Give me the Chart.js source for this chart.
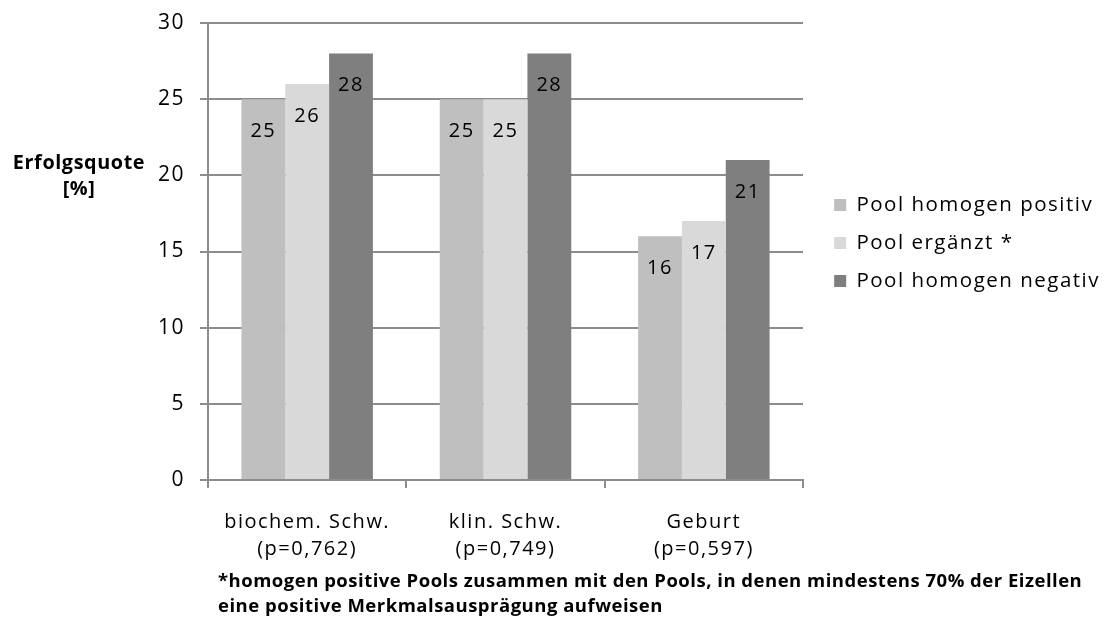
<!DOCTYPE html>
<html>
<head>
<meta charset="utf-8">
<script src="https://cdn.jsdelivr.net/npm/chart.js@4.4.1/dist/chart.umd.min.js"></script>
<style>
  body { margin: 0; background: #fff; }
  #wrap { position: relative; width: 1110px; height: 623px; font-family: "Open Sans", sans-serif; color: #000; }
  #yTitle { position: absolute; left: 0; top: 149px; width: 158px; text-align: center; font-weight: bold; font-size: 19.8px; line-height: 26px; letter-spacing: 0.6px; }
  #note { position: absolute; left: 218px; top: 567px; font-weight: bold; font-size: 18.5px; line-height: 25px; letter-spacing: 0.5px; white-space: nowrap; }
</style>
</head>
<body>
<div id="wrap">
  <canvas id="chart" width="1110" height="623"></canvas>
  <div id="yTitle">Erfolgsquote<br>[%]</div>
  <div id="note">*homogen positive Pools zusammen mit den Pools, in denen mindestens 70% der Eizellen<br>eine positive Merkmalsausprägung aufweisen</div>
</div>
<script>
// data
const categories = ['biochem. Schw.', 'klin. Schw.', 'Geburt'];
const pValues = ['(p=0,762)', '(p=0,749)', '(p=0,597)'];
const seriesNames = ['Pool homogen positiv', 'Pool ergänzt *', 'Pool homogen negativ'];
const homogenPositiv = [25, 25, 16];
const ergaenzt = [26, 25, 17];
const homogenNegativ = [28, 28, 21];
const yTicks = [0, 5, 10, 15, 20, 25, 30];

const colors = ['#bfbfbf', '#d9d9d9', '#7f7f7f'];
const FONT = '"Open Sans", sans-serif';
const SPACING = '1.5px';
const PLOT_RIGHT = 803;

// wider tracking like the original rendering
const tracking = {
    id: 'tracking',
    beforeUpdate(chart) { chart.ctx.letterSpacing = SPACING; },
    beforeLayout(chart) { chart.ctx.letterSpacing = SPACING; },
    beforeDraw(chart) { chart.ctx.letterSpacing = SPACING; }
};

// value labels inside the top of each bar
const valueLabels = {
    id: 'valueLabels',
    afterDatasetsDraw(chart) {
        const ctx = chart.ctx;
        ctx.save();
        ctx.font = '20px ' + FONT;
        ctx.fillStyle = '#000';
        ctx.textAlign = 'center';
        ctx.textBaseline = 'middle';
        chart.data.datasets.forEach((ds, i) => {
            chart.getDatasetMeta(i).data.forEach((bar, j) => {
                ctx.fillText(ds.data[j], bar.x, bar.y + 32);
            });
        });
        ctx.restore();
    }
};

const ctx = document.getElementById('chart').getContext('2d');
new Chart(ctx, {
    type: 'bar',
    data: {
        labels: categories.map((c, i) => [c, pValues[i]]),
        datasets: [homogenPositiv, ergaenzt, homogenNegativ].map((d, i) => ({
            label: seriesNames[i],
            data: d,
            backgroundColor: colors[i],
            categoryPercentage: 0.663,
            barPercentage: 1.0
        }))
    },
    options: {
        responsive: false,
        animation: false,
        devicePixelRatio: 1,
        // negative top padding only moves the legend block up; plot top comes from the y tick overhang
        layout: { padding: { left: 0, right: 0, top: -79, bottom: 58 } },
        plugins: {
            tooltip: { enabled: false },
            legend: {
                position: 'right',
                maxWidth: 400,
                labels: {
                    boxWidth: 12,
                    boxHeight: 12,
                    padding: 17.5,
                    color: '#000',
                    font: { family: FONT, size: 20.5 }
                }
            }
        },
        scales: {
            x: {
                offset: true,
                grid: { offset: true, drawOnChartArea: false, drawTicks: true, tickLength: 8, color: '#8c8c8c', lineWidth: 2 },
                border: { color: '#8c8c8c', width: 2 },
                ticks: { color: '#000', font: { family: FONT, size: 20, lineHeight: 1.35 }, padding: 21, maxRotation: 0, autoSkip: false },
                afterFit(s) { s.height = 85; }
            },
            y: {
                min: 0,
                max: 30,
                afterBuildTicks(s) { s.ticks = yTicks.map(v => ({ value: v })); },
                grid: { color: '#8c8c8c', lineWidth: 2, tickLength: 8 },
                border: { color: '#8c8c8c', width: 2 },
                ticks: { color: '#000', font: { family: FONT, size: 21, lineHeight: 16 / 21 }, padding: 15 },
                afterFit(s) { s.width = 208; }
            },
            gap: {
                position: 'right',
                display: true,
                grid: { display: false },
                border: { display: false },
                ticks: { display: false },
                afterFit(s) { s.width = Math.max(0, s.chart.width - PLOT_RIGHT - s.chart.legend.width); }
            }
        }
    },
    plugins: [tracking, valueLabels]
});
</script>
</body>
</html>
